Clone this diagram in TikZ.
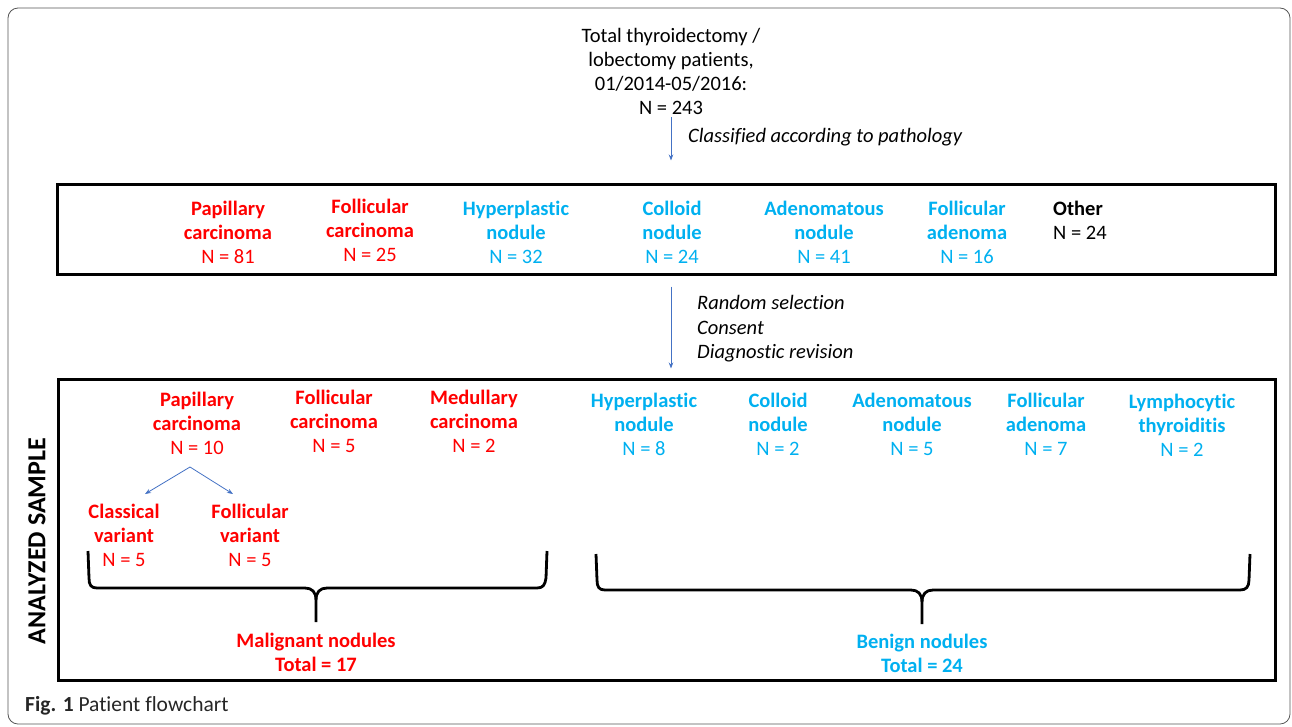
\documentclass[tikz,border=0pt]{standalone}
\usepackage{fontspec}
\setmainfont{Carlito}[Ligatures=NoCommon]
\usetikzlibrary{arrows.meta,calc}
\definecolor{cred}{HTML}{FF0000}
\definecolor{cblue}{HTML}{00B0F0}
\definecolor{carrow}{HTML}{4472C4}
\definecolor{frame}{HTML}{555555}
\begin{document}
\begin{tikzpicture}[x=1pt,y=-1pt,
  txt/.style={font=\fontsize{20.5}{24}\selectfont, align=center, inner sep=0pt},
  itxt/.style={txt, font=\fontsize{20.5}{24.5}\selectfont\itshape},
  mal/.style={txt, text=cred},
  ben/.style={txt, text=cblue},
  bigbox/.style={draw=black, line width=3pt, inner sep=0pt},
  arr/.style={draw=carrow, line width=0.8pt, -{Stealth[length=6pt,width=4.5pt]}},
  brace/.style={draw=black, line width=2.8pt, line join=round}]
\useasboundingbox (0,0) rectangle (1292,726);
\draw[frame, line width=0.8pt, rounded corners=10pt] (8,8) rectangle (1290,724);

% top node
\node[txt] (top) at (671,71) {Total thyroidectomy /\\lobectomy patients,\\01/2014-05/2016:\\N = 243};

% box 1
\node[bigbox, minimum width=1218pt, minimum height=90pt] (box1) at (666,229) {};
\draw[arr] ([yshift=-3pt]top.south) -- ([yshift=22pt]top.south |- box1.north);
\node[itxt, anchor=west] (lab1) at (688,137) {Classified according to pathology};

\node[mal] (pap1) at (228,232) {\textbf{Papillary}\\\textbf{carcinoma}\\N = 81};
\node[mal] (fol1) at (370,230) {\textbf{Follicular}\\\textbf{carcinoma}\\N = 25};
\node[ben] (hyp1) at (516,232) {\textbf{Hyperplastic}\\\textbf{nodule}\\N = 32};
\node[ben] (col1) at (672,232) {\textbf{Colloid}\\\textbf{nodule}\\N = 24};
\node[ben] (ade1) at (824,232) {\textbf{Adenomatous}\\\textbf{nodule}\\N = 41};
\node[ben] (fad1) at (967,232) {\textbf{Follicular}\\\textbf{adenoma}\\N = 16};
\node[txt, align=left, anchor=west] (oth1) at (1053,220) {\textbf{Other}\\N = 24};

% box 2
\node[bigbox, minimum width=1217pt, minimum height=301pt] (box2) at (666.5,529.5) {};
\draw[arr] ([yshift=-11pt]top.south |- box1.south) -- ([yshift=9pt]top.south |- box2.north);
\node[itxt, align=left, anchor=west] (lab2) at (697,329)
  {Random selection\\Consent\\Diagnostic revision};

\node[rotate=90, inner sep=0pt, font=\fontsize{26}{30}\selectfont\bfseries] (anal) at (37,541) {ANALYZED SAMPLE};

\node[mal] (pap2) at (197,423) {\textbf{Papillary}\\\textbf{carcinoma}\\N = 10};
\node[mal] (fol2) at (334,421) {\textbf{Follicular}\\\textbf{carcinoma}\\N = 5};
\node[mal] (med2) at (474,421) {\textbf{Medullary}\\\textbf{carcinoma}\\N = 2};
\node[ben] (hyp2) at (644,424) {\textbf{Hyperplastic}\\\textbf{nodule}\\N = 8};
\node[ben] (col2) at (778,424) {\textbf{Colloid}\\\textbf{nodule}\\N = 2};
\node[ben] (ade2) at (912,424) {\textbf{Adenomatous}\\\textbf{nodule}\\N = 5};
\node[ben] (fad2) at (1046,424) {\textbf{Follicular}\\\textbf{adenoma}\\N = 7};
\node[ben] (lym2) at (1182,425) {\textbf{Lymphocytic}\\\textbf{thyroiditis}\\N = 2};

\node[mal] (cla2) at (124,535) {\textbf{Classical}\\\textbf{variant}\\N = 5};
\node[mal] (fov2) at (250,535) {\textbf{Follicular}\\\textbf{variant}\\N = 5};

\coordinate (split) at (190,467);
\coordinate (clatip) at (145,494);
\coordinate (fovtip) at (233,494);
\draw[arr] (split) -- (clatip);
\draw[arr] (split) -- (fovtip);

% braces
\draw[brace] (88,551) -- (89,578) .. controls (89,585) and (91,588) .. (97,588) -- (305,588)
  .. controls (312,588) and (316,592) .. (316,600) -- (316,622);
\draw[brace] (316,600) .. controls (316,592) and (320,588) .. (327,588) -- (537,588)
  .. controls (543,588) and (545,585) .. (546,578) -- (547,551);

\draw[brace] (596,554) -- (597,580) .. controls (597,587) and (599,590) .. (605,590) -- (911,590)
  .. controls (918,590) and (922,594) .. (922,602) -- (922,624);
\draw[brace] (922,602) .. controls (922,594) and (926,590) .. (933,590) -- (1240,590)
  .. controls (1246,590) and (1249,587) .. (1249,580) -- (1250,554);

\node[mal, font=\fontsize{20.5}{24}\selectfont\bfseries] (malt) at (316,652) {Malignant nodules\\Total = 17};
\node[ben, font=\fontsize{20.5}{24}\selectfont\bfseries] (bent) at (922,653) {Benign nodules\\Total = 24};

% caption
\node[anchor=west, inner sep=0pt, text=black!85, font=\fontsize{21.5}{24}\selectfont] (cap) at (25,706)
  {\textbf{Fig. 1} Patient flowchart};
\end{tikzpicture}
\end{document}
